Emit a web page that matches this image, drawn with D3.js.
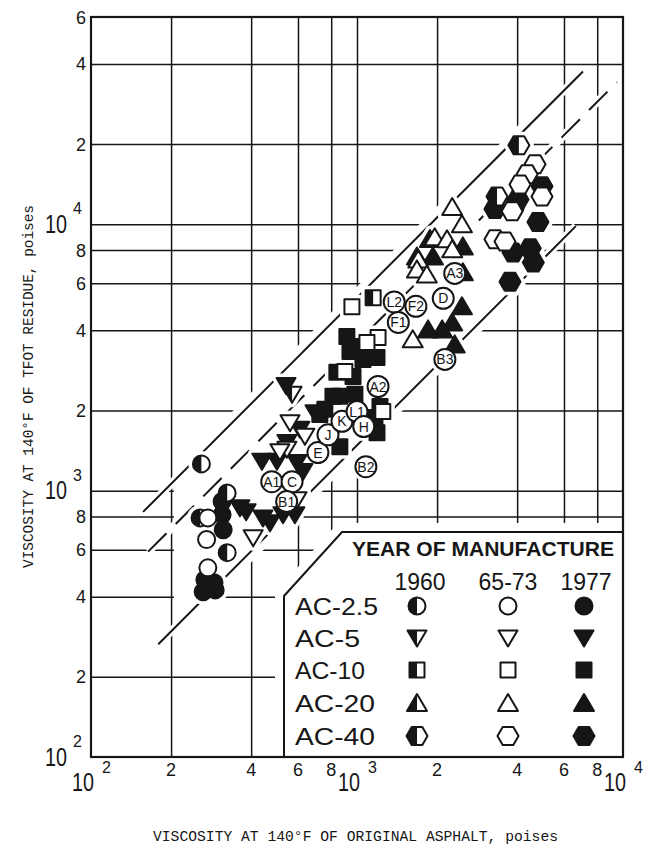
<!DOCTYPE html>
<html>
<head>
<meta charset="utf-8">
<script src="https://cdn.jsdelivr.net/npm/d3@7/dist/d3.min.js"></script>
<style>
  body { margin: 0; background: #fff; }
  svg { display: block; }
</style>
</head>
<body>
<svg id="chart" width="652" height="846"></svg>
<script>
// Viscosity at 140°F, poises: [original asphalt, TFOT residue]
const ac25_1960 = [[260,1260],[325,980],[257,790],[325,585]];
const ac25_6573 = [[275,790],[272,655],[275,513]];
const ac25_1977 = [[311,910],[311,812],[314,713],[268,463],[290,451],[264,417],[293,424]];

const ac5_1960 = [[570,2300]];
const ac5_6573 = [[407,665],[545,1430],[560,1800],[595,924],[637,1600],[513,1400]];
const ac5_1977 = [[363,862],[383,833],[443,790],[471,757],[527,812],[584,812],[439,1290],[500,1290],
                  [595,1275],[626,1180],[610,1700],[545,1515],[695,1960],[541,2480]];

const ac10_1960 = [[1150,5300]];
const ac10_6573 = [[957,4900],[1200,3760],[1090,3600],[900,2800],[1250,1980]];
const ac10_1977 = [[725,1930],[812,2260],[862,2260],[840,2780],[966,2680],[941,3330],[916,3790],
                   [1053,3110],[1189,3160],[1220,2070],[1189,1650],[862,1460],[1053,3480],[1168,1880],
                   [757,2020],[982,2300]];

const ac20_6573 = [[2280,11600],[2480,10000],[1960,8930],[2180,8780],[2280,8050],[1700,7380],
                   [1680,6770],[1830,6480],[1620,3700]];
const ac20_1977 = [[1880,8800],[2500,8260],[1680,7570],[1930,7570],[2500,6600],[2480,4920],
                   [2280,4280],[1850,4030],[2090,4030],[2330,3540]];

const ac40_1960 = [[4060,19800],[3360,12700]];
const ac40_6573 = [[4670,16800],[4360,15400],[4100,14100],[4960,12700],[3830,11200],[3300,8780],[3600,8620]];
const ac40_1977 = [[4960,13900],[3300,11400],[4030,12400],[3860,11400],[4790,10200],[3860,7840],
                   [4480,8120],[4600,7180],[3760,6080]];

// Identified samples (open circles with a code)
const sampleCodes = ["A1","C","B1","E","J","K","L1","H","A2","B2","L2","F2","F1","D","A3","B3"];
const sampleOrig  = [478,570,544,713,778,878,1000,1060,1200,1080,1380,1665,1430,2110,2330,2140];
const sampleTfot  = [1080,1080,910,1390,1620,1820,1980,1740,2460,1230,5110,4920,4280,5270,6540,3110];

// Reference lines y = k·x and the span of original viscosity they cover
const bandRatio = [5.3, 3.6, 1.48];
const bandFrom  = [157, 164, 179];
const bandTo    = [7070, 9490, 6650];
const bandDash  = [null, "26,13", null];

// Axis ticks
const xGrid = [200,400,600,800,1000,2000,4000,6000,8000];
const yGrid = [200,400,600,800,1000,2000,4000,6000,8000,10000,20000,40000];
const xDigitTicks = [200,400,600,800,2000,4000,6000,8000];
const yDigitTicks = [200,400,600,800,2000,4000,6000,8000,20000,40000,60000];
const decadeTicks = [100,1000,10000];

const grades = ["AC-2.5","AC-5","AC-10","AC-20","AC-40"];
const years  = ["1960","65-73","1977"];

const svg = d3.select("#chart");
const x = d3.scaleLog().domain([100, 10000]).range([91, 623]);
const y = d3.scaleLog().domain([100, 60000]).range([757, 17]);
const [L, R] = x.range(), [B, T] = y.range();
const INK = "#161616";

// ---- grid ----
const grid = svg.append("g");
grid.append("g").attr("transform", `translate(0,${B})`)
  .call(d3.axisBottom(x).tickValues(xGrid).tickSize(-(B - T)).tickFormat(""))
  .call(g => g.select(".domain").remove())
  .selectAll("line").attr("stroke", INK).attr("stroke-width", 1.5);
grid.append("g").attr("transform", `translate(${L},0)`)
  .call(d3.axisLeft(y).tickValues(yGrid).tickSize(-(R - L)).tickFormat(""))
  .call(g => g.select(".domain").remove())
  .selectAll("line").attr("stroke", INK).attr("stroke-width", 1.5);

// grid is left open inside the data band
const clearLo = 205, clearHi = 4300, pad = 1.1;
svg.append("path")
  .attr("d", d3.line()([
    [x(clearLo), y(clearLo * bandRatio[0] * pad)],
    [x(clearHi), y(clearHi * bandRatio[0] * pad)],
    [x(clearHi), y(clearHi * bandRatio[2] / pad)],
    [x(clearLo), y(clearLo * bandRatio[2] / pad)]
  ]) + "Z")
  .attr("fill", "#fff");

// ---- legend panel (drawn early so it hides the grid) ----
const legendOutline = `M284,${B} V596 L342,532 H${R} V${B} Z`;
svg.append("path").attr("d", legendOutline).attr("fill", "#fff")
  .attr("stroke", "#fff").attr("stroke-width", 18);

// ---- reference lines ----
const lineG = svg.append("g");
bandRatio.forEach((k, i) => {
  const seg = [[x(bandFrom[i]), y(bandFrom[i] * k)], [x(bandTo[i]), y(bandTo[i] * k)]];
  lineG.append("path").attr("d", d3.line()(seg))
    .attr("stroke", "#fff").attr("stroke-width", 8);
});
bandRatio.forEach((k, i) => {
  const seg = [[x(bandFrom[i]), y(bandFrom[i] * k)], [x(bandTo[i]), y(bandTo[i] * k)]];
  lineG.append("path").attr("d", d3.line()(seg))
    .attr("stroke", INK).attr("stroke-width", 2)
    .attr("stroke-dasharray", bandDash[i]);
});

// ---- marker geometry ----
function outline(shape, cx, cy) {
  const p = d3.path();
  if (shape === "circle") {
    p.arc(cx, cy, 8.5, 0, 2 * Math.PI);
  } else {
    const pts = {
      down:   [[-9.5,-7.5],[9.5,-7.5],[0,8.5]],
      square: [[-7.5,-7.5],[7.5,-7.5],[7.5,7.5],[-7.5,7.5]],
      up:     [[0,-9],[10,8],[-10,8]],
      hex:    [[-10.5,0],[-5.3,-9],[5.3,-9],[10.5,0],[5.3,9],[-5.3,9]]
    }[shape];
    pts.forEach(([dx, dy], j) => j ? p.lineTo(cx + dx, cy + dy) : p.moveTo(cx + dx, cy + dy));
    p.closePath();
  }
  return p.toString();
}
function leftHalf(shape, cx, cy) {
  if (shape === "circle")
    return `M${cx},${cy - 8.5} A8.5,8.5 0 0 0 ${cx},${cy + 8.5} Z`;
  const pts = {
    down:   [[-9.5,-7.5],[0,-7.5],[0,8.5]],
    square: [[-7.5,-7.5],[0,-7.5],[0,7.5],[-7.5,7.5]],
    up:     [[0,-9],[0,8],[-10,8]],
    hex:    [[-10.5,0],[-5.3,-9],[0,-9],[0,9],[-5.3,9]]
  }[shape];
  return "M" + pts.map(([dx, dy]) => `${cx + dx},${cy + dy}`).join("L") + "Z";
}

// year style: "half" = left half black, "open", "solid"
const series = [
  ["circle", "solid", ac25_1977], ["down", "solid", ac5_1977], ["square", "solid", ac10_1977],
  ["up", "solid", ac20_1977], ["hex", "solid", ac40_1977],
  ["circle", "half", ac25_1960], ["down", "half", ac5_1960], ["square", "half", ac10_1960],
  ["hex", "half", ac40_1960],
  ["circle", "open", ac25_6573], ["down", "open", ac5_6573], ["square", "open", ac10_6573],
  ["up", "open", ac20_6573], ["hex", "open", ac40_6573]
];
const marks = [];
series.forEach(([shape, style, data]) =>
  data.forEach(([vo, vt]) => marks.push({ shape, style, cx: x(vo), cy: y(vt) })));
const samples = sampleCodes.map((c, i) => ({ code: c, cx: x(sampleOrig[i]), cy: y(sampleTfot[i]) }));

// white halos first, so marks break the lines they sit on
const halo = svg.append("g");
marks.forEach(m => halo.append("path").attr("d", outline(m.shape, m.cx, m.cy))
  .attr("fill", "#fff").attr("stroke", "#fff").attr("stroke-width", 9).attr("stroke-linejoin", "round"));
samples.forEach(s => halo.append("circle").attr("cx", s.cx).attr("cy", s.cy).attr("r", 10.5)
  .attr("fill", "#fff").attr("stroke", "#fff").attr("stroke-width", 8));

function drawMark(g, shape, style, cx, cy) {
  g.append("path").attr("d", outline(shape, cx, cy))
    .attr("fill", style === "solid" ? INK : "#fff");
  if (style === "half")
    g.append("path").attr("d", leftHalf(shape, cx, cy)).attr("fill", INK);
  g.append("path").attr("d", outline(shape, cx, cy))
    .attr("fill", "none").attr("stroke", INK).attr("stroke-width", 2).attr("stroke-linejoin", "round");
}
const markG = svg.append("g");
marks.forEach(m => drawMark(markG, m.shape, m.style, m.cx, m.cy));

const sampG = svg.append("g");
samples.forEach(s => {
  sampG.append("circle").attr("cx", s.cx).attr("cy", s.cy).attr("r", 10.5)
    .attr("fill", "#fff").attr("stroke", INK).attr("stroke-width", 2);
  sampG.append("text").attr("x", s.cx).attr("y", s.cy + 5)
    .attr("text-anchor", "middle")
    .attr("font-family", "'Liberation Sans Narrow','Liberation Sans',sans-serif")
    .attr("font-size", 14).attr("fill", INK).text(s.code);
});

// ---- legend ----
svg.append("path").attr("d", legendOutline).attr("fill", "none")
  .attr("stroke", INK).attr("stroke-width", 2);
const leg = svg.append("g").attr("font-family", "'Liberation Sans',Arial,sans-serif").attr("fill", INK);
leg.append("text").attr("x", 352).attr("y", 556).attr("font-size", 20).attr("font-weight", 600)
  .attr("textLength", 262).attr("lengthAdjust", "spacingAndGlyphs").text("YEAR OF MANUFACTURE");
const colX = [420, 508, 586];
years.forEach((yr, j) => leg.append("text").attr("x", colX[j]).attr("y", 590)
  .attr("text-anchor", "middle").attr("font-size", 23).text(yr));
const rowY = [606, 638, 670, 703, 736];
const rowW = [83, 65, 70, 80, 80];
const rowShape = ["circle", "down", "square", "up", "hex"];
const yearStyle = ["half", "open", "solid"];
grades.forEach((gname, i) => {
  leg.append("text").attr("x", 295).attr("y", rowY[i] + 8.5).attr("font-size", 23)
    .attr("textLength", rowW[i]).attr("lengthAdjust", "spacingAndGlyphs").text(gname);
  yearStyle.forEach((st, j) => drawMark(leg, rowShape[i], st, [417, 508, 584][j], rowY[i]));
});

// ---- frame ----
svg.append("rect").attr("x", L).attr("y", T).attr("width", R - L).attr("height", B - T)
  .attr("fill", "none").attr("stroke", INK).attr("stroke-width", 2.2);

// ---- tick labels ----
const tickG = svg.append("g").attr("font-family", "'Liberation Sans',Arial,sans-serif").attr("fill", INK);
const lead = v => String(Math.round(v / Math.pow(10, Math.floor(Math.log10(v) + 1e-9))));
xDigitTicks.forEach(v => tickG.append("text").attr("x", x(v)).attr("y", 776)
  .attr("text-anchor", "middle").attr("font-size", 18).text(lead(v)));
yDigitTicks.forEach(v => tickG.append("text").attr("x", 86).attr("y", y(v) + 6.5)
  .attr("text-anchor", "end").attr("font-size", 18).text(lead(v)));
decadeTicks.forEach(v => {
  const e = Math.round(Math.log10(v));
  // x axis: 10 with the exponent raised to its right
  tickG.append("text").attr("x", x(v) - 8).attr("y", 791).attr("text-anchor", "middle")
    .attr("font-size", 25).attr("textLength", 22).attr("lengthAdjust", "spacingAndGlyphs").text("10");
  tickG.append("text").attr("x", x(v) + 11).attr("y", 773).attr("font-size", 16).text(e);
  // y axis
  tickG.append("text").attr("x", 56).attr("y", y(v) + 8.5).attr("text-anchor", "middle")
    .attr("font-size", 25).attr("textLength", 22).attr("lengthAdjust", "spacingAndGlyphs").text("10");
  tickG.append("text").attr("x", 73).attr("y", y(v) - 10).attr("font-size", 16).text(e);
});

// ---- axis titles ----
svg.append("text").attr("x", 153).attr("y", 841)
  .attr("font-family", "'Liberation Mono','DejaVu Sans Mono',monospace").attr("font-size", 14)
  .attr("fill", INK).attr("textLength", 405).attr("lengthAdjust", "spacingAndGlyphs")
  .text("VISCOSITY AT 140°F OF ORIGINAL ASPHALT, poises");
svg.append("text").attr("transform", "translate(33,568) rotate(-90)")
  .attr("font-family", "'Liberation Mono','DejaVu Sans Mono',monospace").attr("font-size", 14)
  .attr("fill", INK).attr("textLength", 363).attr("lengthAdjust", "spacingAndGlyphs")
  .text("VISCOSITY AT 140°F OF TFOT RESIDUE, poises");
</script>
</body>
</html>
